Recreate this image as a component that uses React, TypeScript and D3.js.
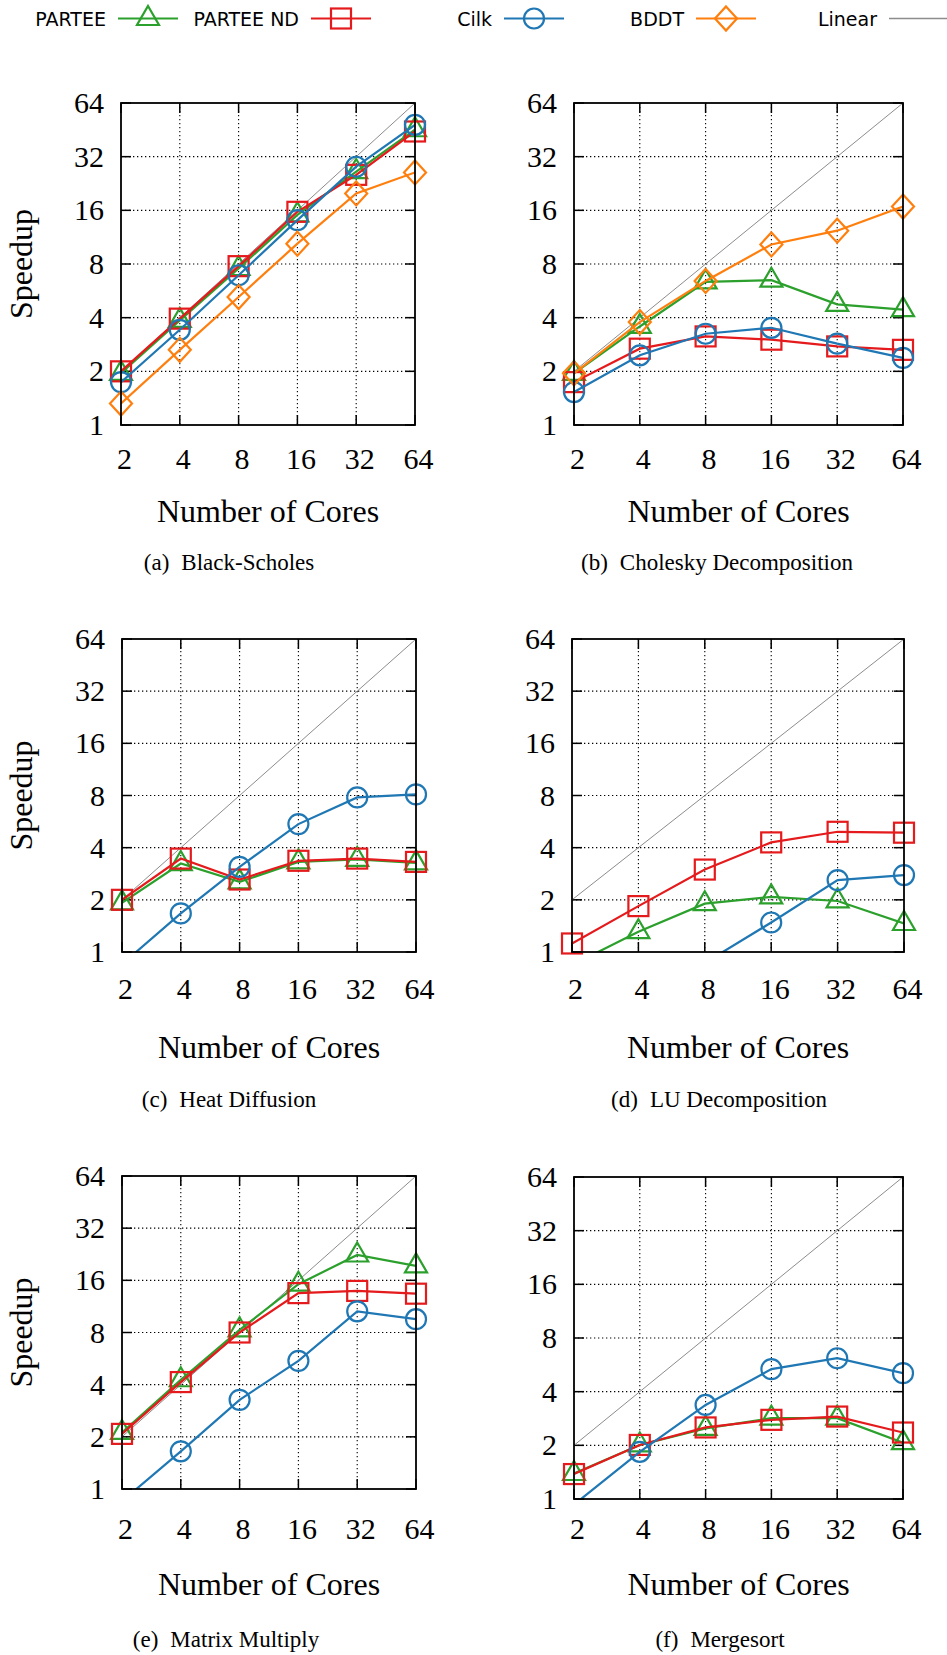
import React from 'react';
import * as d3 from 'd3';

const cores = [2, 4, 8, 16, 32, 64];
const speedTicks = [1, 2, 4, 8, 16, 32, 64];
const linear = [2, 4, 8, 16, 32, 64];

// (a) Black-Scholes
const bsPartee = [1.95, 3.86, 7.55, 15.1, 26.4, 45.3];
const bsParteeNd = [2.0, 3.95, 7.78, 15.7, 25.3, 44.3];
const bsCilk = [1.74, 3.42, 6.92, 14.1, 28.1, 48.3];
const bsBddt = [1.32, 2.64, 5.22, 10.4, 19.9, 26.1];

// (b) Cholesky Decomposition
const chPartee = [1.95, 3.57, 6.35, 6.49, 4.75, 4.44];
const chParteeNd = [1.74, 2.68, 3.14, 3.01, 2.76, 2.64];
const chCilk = [1.53, 2.46, 3.25, 3.51, 2.86, 2.38];
const chBddt = [1.95, 3.78, 6.43, 10.3, 12.3, 16.8];

// (c) Heat Diffusion
const hdPartee = [1.92, 3.24, 2.54, 3.31, 3.42, 3.27];
const hdParteeNd = [2.0, 3.46, 2.62, 3.36, 3.46, 3.31];
const hdCilk = [0.85, 1.67, 3.1, 5.47, 7.8, 8.12];

// (d) LU Decomposition
const luPartee = [0.84, 1.31, 1.9, 2.08, 1.97, 1.46];
const luParteeNd = [1.12, 1.84, 2.99, 4.29, 4.94, 4.88];
const luCilk = [0.3, 0.5, 0.865, 1.48, 2.6, 2.78];

// (e) Matrix Multiply
const mmPartee = [2.12, 4.27, 8.29, 15.2, 22.4, 19.4];
const mmParteeNd = [2.08, 4.14, 8.0, 13.5, 13.9, 13.4];
const mmCilk = [0.85, 1.65, 3.27, 5.49, 10.6, 9.55];

// (f) Mergesort
const msPartee = [1.39, 2.01, 2.49, 2.84, 2.84, 2.07];
const msParteeNd = [1.38, 2.01, 2.52, 2.78, 2.9, 2.36];
const msCilk = [0.93, 1.84, 3.37, 5.35, 6.16, 5.08];

const legendNames = ['PARTEE', 'PARTEE ND', 'Cilk', 'BDDT', 'Linear'];

const GREEN = '#2ca02c';
const RED = '#e41a1c';
const BLUE = '#1f77b4';
const ORANGE = '#ff7f0e';
const GRAY = '#8c8c8c';

const SERIF = '"Liberation Serif", "Times New Roman", serif';
const SANS = '"DejaVu Sans", sans-serif';

const styles = {
  partee: { color: GREEN, shape: 'triangle' },
  parteeNd: { color: RED, shape: 'square' },
  cilk: { color: BLUE, shape: 'circle' },
  bddt: { color: ORANGE, shape: 'diamond' },
};

const panels = [
  { key: 'a', tag: '(a)', name: 'Black-Scholes', left: 121, right: 415, top: 103, bottom: 425, tickY: 469, titleY: 522, capX: 229, capY: 570, ylabel: true,
    series: [['partee', bsPartee], ['parteeNd', bsParteeNd], ['cilk', bsCilk], ['bddt', bsBddt]] },
  { key: 'b', tag: '(b)', name: 'Cholesky Decomposition', left: 574, right: 903, top: 103, bottom: 425, tickY: 469, titleY: 522, capX: 717, capY: 570, ylabel: false,
    series: [['partee', chPartee], ['parteeNd', chParteeNd], ['cilk', chCilk], ['bddt', chBddt]] },
  { key: 'c', tag: '(c)', name: 'Heat Diffusion', left: 122, right: 416, top: 639, bottom: 952, tickY: 999, titleY: 1058, capX: 229, capY: 1107, ylabel: true,
    series: [['partee', hdPartee], ['parteeNd', hdParteeNd], ['cilk', hdCilk]] },
  { key: 'd', tag: '(d)', name: 'LU Decomposition', left: 572, right: 904, top: 639, bottom: 952, tickY: 999, titleY: 1058, capX: 719, capY: 1107, ylabel: false,
    series: [['partee', luPartee], ['parteeNd', luParteeNd], ['cilk', luCilk]] },
  { key: 'e', tag: '(e)', name: 'Matrix Multiply', left: 122, right: 416, top: 1176, bottom: 1489, tickY: 1539, titleY: 1595, capX: 226, capY: 1647, ylabel: true,
    series: [['partee', mmPartee], ['parteeNd', mmParteeNd], ['cilk', mmCilk]] },
  { key: 'f', tag: '(f)', name: 'Mergesort', left: 574, right: 903, top: 1177, bottom: 1499, tickY: 1539, titleY: 1595, capX: 720, capY: 1647, ylabel: false,
    series: [['partee', msPartee], ['parteeNd', msParteeNd], ['cilk', msCilk]] },
];

function Marker({ shape, cx, cy, color }) {
  const common = { fill: 'none', stroke: color, strokeWidth: 2.2 };
  if (shape === 'circle') return <circle cx={cx} cy={cy} r={10} {...common} />;
  if (shape === 'square') return <rect x={cx - 10} y={cy - 10} width={20} height={20} {...common} />;
  if (shape === 'triangle')
    return <path d={`M${cx},${cy - 12.5}L${cx + 11},${cy + 6.5}L${cx - 11},${cy + 6.5}Z`} {...common} />;
  return <path d={`M${cx},${cy - 12}L${cx + 11},${cy}L${cx},${cy + 12}L${cx - 11},${cy}Z`} {...common} />;
}

function Panel({ p }) {
  const x = d3.scaleLog().base(2).domain([2, 64]).range([p.left, p.right]);
  const y = d3.scaleLog().base(2).domain([1, 64]).range([p.bottom, p.top]);
  const line = d3.line<number>().x((_, i) => x(cores[i])).y(d => y(d));
  const clipId = `clip-${p.key}`;
  const tickLen = 10;

  return (
    <g>
      <defs>
        <clipPath id={clipId}>
          <rect x={p.left} y={p.top} width={p.right - p.left} height={p.bottom - p.top} />
        </clipPath>
      </defs>

      {/* grid */}
      {speedTicks.slice(1, -1).map(t => (
        <line key={'gy' + t} x1={p.left} x2={p.right} y1={y(t)} y2={y(t)} stroke="#000" strokeWidth={1.1} strokeDasharray="1.3,2.7" />
      ))}
      {cores.slice(1, -1).map(c => (
        <line key={'gx' + c} x1={x(c)} x2={x(c)} y1={p.top} y2={p.bottom} stroke="#000" strokeWidth={1.1} strokeDasharray="1.3,2.7" />
      ))}

      {/* ticks */}
      {speedTicks.map(t => (
        <g key={'ty' + t}>
          <line x1={p.left} x2={p.left + tickLen} y1={y(t)} y2={y(t)} stroke="#000" strokeWidth={1.5} />
          <line x1={p.right - tickLen} x2={p.right} y1={y(t)} y2={y(t)} stroke="#000" strokeWidth={1.5} />
          <text x={p.left - 17} y={y(t) + 10} textAnchor="end" fontFamily={SERIF} fontSize={30} fill="#000">{t}</text>
        </g>
      ))}
      {cores.map(c => (
        <g key={'tx' + c}>
          <line x1={x(c)} x2={x(c)} y1={p.bottom} y2={p.bottom - tickLen} stroke="#000" strokeWidth={1.5} />
          <line x1={x(c)} x2={x(c)} y1={p.top} y2={p.top + tickLen} stroke="#000" strokeWidth={1.5} />
          <text x={x(c) + 3.5} y={p.tickY} textAnchor="middle" fontFamily={SERIF} fontSize={30} fill="#000">{c}</text>
        </g>
      ))}

      {/* linear reference */}
      <path d={line(linear) || ''} fill="none" stroke={GRAY} strokeWidth={1} clipPath={`url(#${clipId})`} />

      {/* series */}
      {p.series.map(([k, vals]) => {
        const st = styles[k];
        return (
          <g key={k}>
            <path d={line(vals) || ''} fill="none" stroke={st.color} strokeWidth={2.2} clipPath={`url(#${clipId})`} />
            {vals.map((v, i) =>
              v >= 1 ? <Marker key={i} shape={st.shape} cx={x(cores[i])} cy={y(v)} color={st.color} /> : null
            )}
          </g>
        );
      })}

      {/* frame */}
      <rect x={p.left} y={p.top} width={p.right - p.left} height={p.bottom - p.top} fill="none" stroke="#000" strokeWidth={1.8} />

      {/* axis titles */}
      <text x={(p.left + p.right) / 2} y={p.titleY} textAnchor="middle" fontFamily={SERIF} fontSize={32} fill="#000">Number of Cores</text>
      {p.ylabel && (
        <text transform={`translate(31.5,${(p.top + p.bottom) / 2}) rotate(-90)`} textAnchor="middle" fontFamily={SERIF} fontSize={32} fill="#000">Speedup</text>
      )}

      {/* caption */}
      <text x={p.capX} y={p.capY} textAnchor="middle" fontFamily={SERIF} fontSize={23} fill="#000">
        <tspan>{p.tag}</tspan>
        <tspan dx={12}>{p.name}</tspan>
      </text>
    </g>
  );
}

function Legend() {
  const starts = [118, 311, 504, 696, 889];
  const keys = ['partee', 'parteeNd', 'cilk', 'bddt'];
  const ly = 18.5;
  return (
    <g>
      {legendNames.map((name, i) => {
        const s = starts[i];
        const isLinear = i === 4;
        const color = isLinear ? GRAY : styles[keys[i]].color;
        return (
          <g key={name}>
            <text x={s - 12} y={26} textAnchor="end" fontFamily={SANS} fontSize={19} fill="#000">{name}</text>
            <line x1={s} x2={isLinear ? 947 : s + 60} y1={ly} y2={ly} stroke={color} strokeWidth={isLinear ? 1.5 : 2.2} />
            {!isLinear && <Marker shape={styles[keys[i]].shape} cx={s + 30} cy={ly} color={color} />}
          </g>
        );
      })}
    </g>
  );
}

export default function App() {
  return (
    <svg width={947} height={1655} style={{ position: 'absolute', left: 0, top: 0, background: '#fff' }}>
      <rect width={947} height={1655} fill="#fff" />
      <Legend />
      {panels.map(p => <Panel key={p.key} p={p} />)}
    </svg>
  );
}
